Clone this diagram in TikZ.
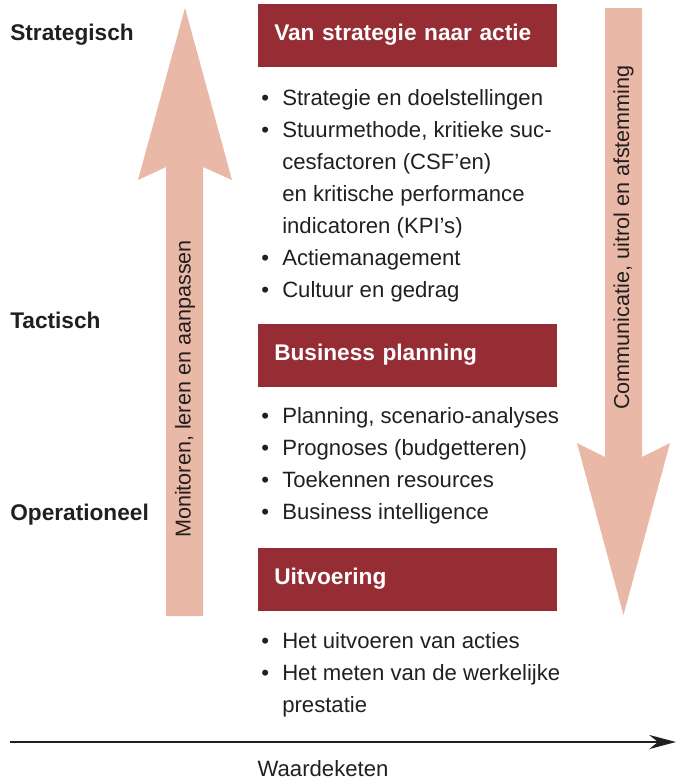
\documentclass[tikz,border=0pt]{standalone}
\usepackage{fontspec}
\setmainfont{Liberation Sans}
\usetikzlibrary{arrows.meta}
\definecolor{wijnrood}{HTML}{962D35}
\definecolor{zalm}{HTML}{E9B8A7}
\definecolor{inkt}{HTML}{231F20}
\def\punt{\makebox[15.75pt][l]{\textbullet}}
\def\inspring{\hspace*{15.75pt}}
\tikzset{
	kop/.style={fill=wijnrood, text=white, font=\bfseries\fontsize{17}{20}\selectfont, anchor=north west, inner xsep=12pt, inner ysep=0pt, text width=200.25pt, text height=27pt, text depth=20.25pt, align=left},
	regel/.style={anchor=base west, inner sep=0pt, text=inkt, font=\fontsize{16.6}{24}\selectfont},
	niveau/.style={anchor=base west, inner sep=0pt, text=inkt, font=\bfseries\fontsize{17}{20}\selectfont},
	staand/.style={rotate=90, inner sep=0pt, text=inkt, font=\fontsize{16.2}{20}\selectfont},
	ketenpijl/.style={line width=2pt, draw=inkt, -{Stealth[length=20pt, width=10.5pt]}}
}
\begin{document}
\begin{tikzpicture}[x=0.75pt, y=-0.75pt]
			%%%%% START %%%%%
			\useasboundingbox (0, 0) rectangle (680, 779);
			
			% brede pijlen
			\fill[zalm] (166, 616) -- (166, 167) -- (138, 180) -- (185, 8) -- (232, 180) -- (203, 167) -- (203, 616) -- cycle;
			\fill[zalm] (605, 8) -- (605, 457) -- (577, 443) -- (623.5, 615) -- (670, 443) -- (642, 457) -- (642, 8) -- cycle;
			\node[staand] (monitoren) at (185, 389) {Monitoren, leren en aanpassen};
			\node[staand] (communicatie) at (623.5, 237.5) {Communicatie, uitrol en afstemming};
			
			% niveaus
			\node[niveau] (strategisch) at (10, 40) {Strategisch};
			\node[niveau] (tactisch) at (10, 328) {Tactisch};
			\node[niveau] (operationeel) at (10, 520) {Operationeel};
			
			% van strategie naar actie
			\node[kop] (strategie) at (258, 4) {Van strategie naar actie};
			\node[regel] (s1) at (261, 105) {\punt Strategie en doelstellingen};
			\node[regel] (s2) at (261, 137) {\punt Stuurmethode, kritieke suc-};
			\node[regel] (s3) at (261, 169) {\inspring cesfactoren (CSF’en)};
			\node[regel] (s4) at (261, 201) {\inspring en kritische performance};
			\node[regel] (s5) at (261, 233) {\inspring indicatoren (KPI’s)};
			\node[regel] (s6) at (261, 265) {\punt Actiemanagement};
			\node[regel] (s7) at (261, 297) {\punt Cultuur en gedrag};
			
			% business planning
			\node[kop] (planning) at (258, 324) {Business planning};
			\node[regel] (p1) at (261, 423) {\punt Planning, scenario-analyses};
			\node[regel] (p2) at (261, 455) {\punt Prognoses (budgetteren)};
			\node[regel] (p3) at (261, 487) {\punt Toekennen resources};
			\node[regel] (p4) at (261, 519) {\punt Business intelligence};
			
			% uitvoering
			\node[kop] (uitvoering) at (258, 548) {Uitvoering};
			\node[regel] (u1) at (261, 648) {\punt Het uitvoeren van acties};
			\node[regel] (u2) at (261, 680) {\punt Het meten van de werkelijke};
			\node[regel] (u3) at (261, 712) {\inspring prestatie};
			
			% waardeketen
			\coordinate (ketenbegin) at (10, 742);
			\coordinate (keteneind) at (676, 742);
			\draw[ketenpijl] (ketenbegin) -- (keteneind);
			\node[regel, anchor=base] (waardeketen) at (323, 776) {Waardeketen};
			
			%%%%% END %%%%%
\end{tikzpicture}
\end{document}
